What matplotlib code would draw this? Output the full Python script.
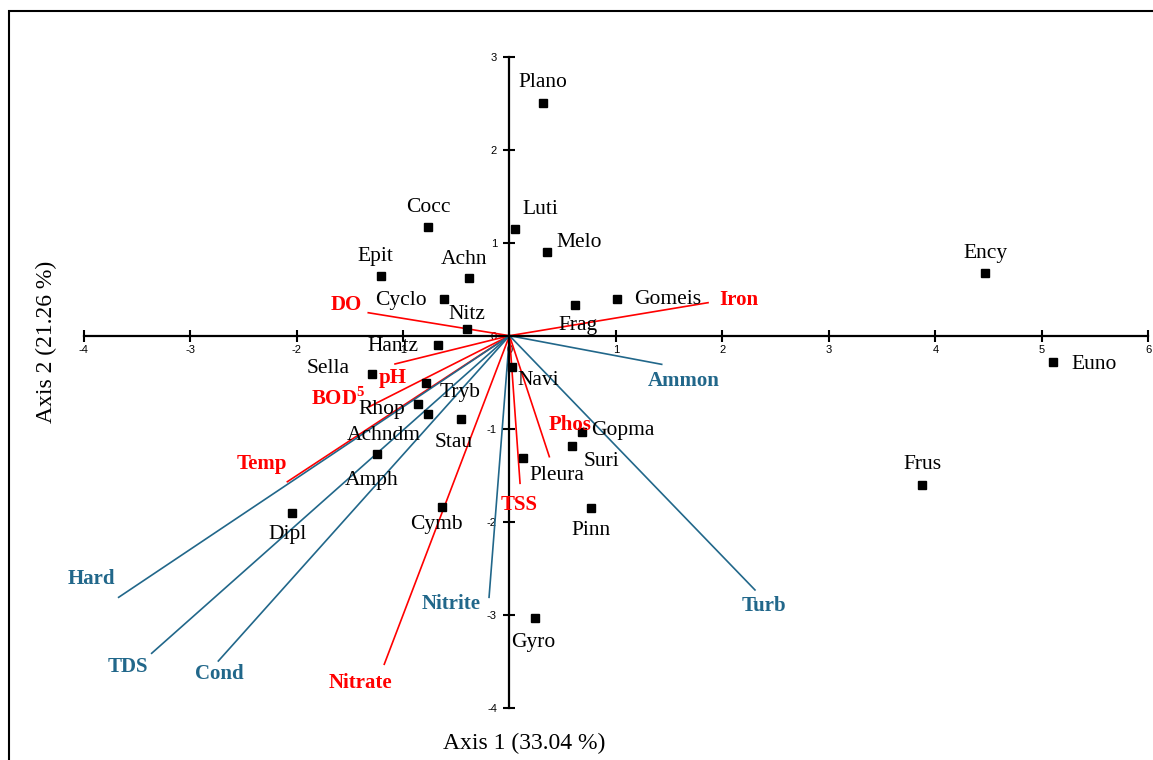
import matplotlib.pyplot as plt
from matplotlib.patches import Rectangle

plt.rcParams['mathtext.fontset'] = 'custom'
plt.rcParams['mathtext.rm'] = 'Liberation Serif'
plt.rcParams['mathtext.bf'] = 'Liberation Serif:bold'
plt.rcParams['axes.unicode_minus'] = False

# species scores on the first two axes
species = ['Plano', 'Cocc', 'Luti', 'Melo', 'Epit', 'Achn', 'Cyclo', 'Nitz',
           'Frag', 'Gomeis', 'Ency', 'Hantz', 'Sella', 'Navi', 'Euno', 'Tryb',
           'Rhop', 'Achndm', 'Stau', 'Amph', 'Dipl', 'Cymb', 'Gopma', 'Suri',
           'Pleura', 'Pinn', 'Frus', 'Gyro']
sp_x = [0.312, -0.765, 0.052, 0.349, -1.209, -0.377, -0.615, -0.396,
        0.615, 1.012, 4.465, -0.669, -1.288, 0.026, 5.106, -0.784,
        -0.856, -0.768, -0.455, -1.244, -2.045, -0.637, 0.678, 0.590,
        0.130, 0.762, 3.876, 0.239]
sp_y = [2.505, 1.166, 1.151, 0.897, 0.642, 0.620, 0.395, 0.069,
        0.330, 0.391, 0.671, -0.100, -0.412, -0.333, -0.286, -0.512,
        -0.738, -0.842, -0.899, -1.275, -1.910, -1.839, -1.032, -1.183,
        -1.318, -1.856, -1.605, -3.032]

# environmental variable arrows
env = ['Iron', 'DO', 'pH', 'BOD$^{\\mathbf{5}}$', 'Temp', 'Nitrate', 'TSS', 'Phos',
       'Ammon', 'Turb', 'Nitrite', 'Hard', 'TDS', 'Cond']
env_x = [1.864, -1.326, -1.075, -1.316, -2.086, -1.176, 0.099, 0.374,
         1.429, 2.305, -0.192, -3.670, -3.360, -2.734]
env_y = [0.355, 0.247, -0.304, -0.763, -1.570, -3.533, -1.587, -1.301,
         -0.308, -2.734, -2.813, -2.813, -3.415, -3.498]
env_group = ['r', 'r', 'r', 'r', 'r', 'r', 'r', 'r',
             'b', 'b', 'b', 'b', 'b', 'b']

# label offsets in pixels (right, up)
sp_off = {'Plano': (0, 23), 'Cocc': (0, 22), 'Luti': (25, 22), 'Melo': (33, 12),
          'Epit': (-5, 22), 'Achn': (-5, 21), 'Cyclo': (-43, 1), 'Nitz': (0, 17),
          'Frag': (3, -18), 'Gomeis': (50, 2), 'Ency': (0, 22), 'Hantz': (-45, 1),
          'Sella': (-44, 8), 'Navi': (26, -11), 'Euno': (41, 0), 'Tryb': (34, -7),
          'Rhop': (-37, -3), 'Achndm': (-44, -19), 'Stau': (-7, -21),
          'Amph': (-5, -24), 'Dipl': (-4, -19), 'Cymb': (-5, -15),
          'Gopma': (41, 4), 'Suri': (29, -13), 'Pleura': (34, -15),
          'Pinn': (0, -20), 'Frus': (0, 23), 'Gyro': (-2, -22)}
env_off = [(31, 5), (-22, 10), (-2, -12), (-31, 11), (-25, 20), (-24, -16),
           (-1, -19), (21, 34), (22, -14), (9, -14), (-38, -4), (-27, 21),
           (-24, -11), (1, -10)]

colors = {'r': '#ff0000', 'b': '#21678a'}

W, H = 1153, 760
fig = plt.figure(figsize=(W / 100, H / 100), dpi=100)
ax = fig.add_axes([0, 0, 1, 1])
ax.set_xlim(-509.5 / 106.5, (W - 509.5) / 106.5)
ax.set_ylim((335.7 - H) / 93, 335.7 / 93)

for s in ['top', 'right']:
    ax.spines[s].set_visible(False)
for s in ['left', 'bottom']:
    ax.spines[s].set_position(('data', 0))
    ax.spines[s].set_linewidth(1.6)
ax.spines['bottom'].set_bounds(-4, 6)
ax.spines['left'].set_bounds(-4, 3)
ax.set_xticks(range(-4, 7))
ax.set_yticks(range(-4, 4))
ax.tick_params(direction='inout', length=8, width=1.5, labelsize=8)
ax.tick_params(axis='x', pad=3)
ax.tick_params(axis='y', pad=5)
for lab in ax.get_xticklabels() + ax.get_yticklabels():
    lab.set_family('Liberation Sans')
ax.patch.set_visible(False)

for name, x, y, g, off in zip(env, env_x, env_y, env_group, env_off):
    c = colors[g]
    ax.plot([0, x], [0, y], color=c, lw=1.2, zorder=2)
    ax.annotate(name, (x, y), xytext=off, textcoords='offset pixels',
                ha='center', va='center_baseline', color=c, fontsize=15,
                family='Liberation Serif', fontweight='bold', zorder=4)

ax.plot(sp_x, sp_y, 's', color='black', ms=6.3, zorder=3)
for name, x, y in zip(species, sp_x, sp_y):
    ax.annotate(name, (x, y), xytext=sp_off[name], textcoords='offset pixels',
                ha='center', va='center_baseline', fontsize=15.5,
                family='Liberation Serif', zorder=4)

fig.text(524 / W, 1 - 743 / H, 'Axis 1 (33.04 %)', ha='center', va='center',
         fontsize=17, family='Liberation Serif')
fig.text(46 / W, 1 - 342 / H, 'Axis 2 (21.26 %)', ha='center', va='center',
         rotation=90, fontsize=17, family='Liberation Serif')

top = 1 - 10.5 / H
fig.patches.append(Rectangle((9 / W, -0.05), 1.1, top + 0.05, fill=False,
                             lw=1.5, ec='black', transform=fig.transFigure))

fig.savefig('out.png', dpi=100)
